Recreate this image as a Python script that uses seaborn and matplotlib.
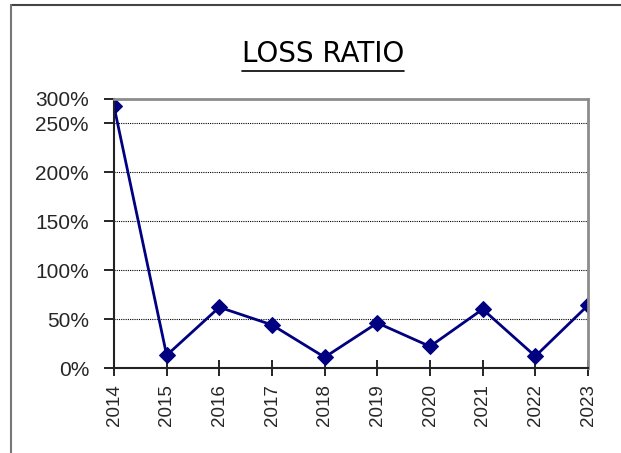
import matplotlib
matplotlib.use("Agg")
import matplotlib.pyplot as plt
import matplotlib.lines as mlines
import pandas as pd
import seaborn as sns

# loss ratio per year
years = [2014, 2015, 2016, 2017, 2018, 2019, 2020, 2021, 2022, 2023]
loss_ratio = [2.67, 0.13, 0.62, 0.44, 0.11, 0.46, 0.22, 0.60, 0.12, 0.64]
ytick_vals = [0, 0.5, 1.0, 1.5, 2.0, 2.5, 2.745]
ytick_labels = ["0%", "50%", "100%", "150%", "200%", "250%", "300%"]

data = pd.DataFrame({"year": years, "ratio": loss_ratio})

sns.set_style("white")
plt.rcParams["font.family"] = ["Liberation Sans", "DejaVu Sans"]

fig = plt.figure(figsize=(6.21, 4.53), dpi=100)
ax = fig.add_axes([114 / 621, 1 - 368 / 453, (588 - 114) / 621, (368 - 99) / 453])

sns.lineplot(data=data, x="year", y="ratio", ax=ax, color="#000080",
             linewidth=2, marker="D", markersize=8.5, markeredgecolor="#000080")

ax.set_xlim(years[0], years[-1])
ax.set_ylim(0, ytick_vals[-1])
ax.set_xticks(years)
ax.set_xticklabels([str(y) for y in years], rotation=90)
ax.set_yticks(ytick_vals)
ax.set_yticklabels(ytick_labels)
ax.set_xlabel("")
ax.set_ylabel("")

# dotted gridlines
for v in ytick_vals[1:-1]:
    ax.axhline(v, color="black", linestyle=(0, (1, 1)), linewidth=0.8, zorder=0)

ax.tick_params(axis="x", direction="inout", length=11, width=1.2, labelsize=13.5, pad=6, color="black")
ax.tick_params(axis="y", direction="out", length=7, width=1.2, labelsize=15, pad=11, color="black")
ax.tick_params(left=True, bottom=True)

for s in ["left", "bottom"]:
    ax.spines[s].set_color("#222222")
    ax.spines[s].set_linewidth(1.5)
for s in ["top", "right"]:
    ax.spines[s].set_color("#8c8c8c")
    ax.spines[s].set_linewidth(2)

# title with underline
title = fig.text(323 / 621, 1 - 54 / 453, "LOSS RATIO", ha="center", va="center",
                 fontsize=20, family="DejaVu Sans", color="black")
fig.canvas.draw()
bb = title.get_window_extent()
uy = bb.y0 - 3
fig.add_artist(mlines.Line2D([bb.x0 / 621, bb.x1 / 621], [uy / 453, uy / 453],
                             color="black", linewidth=1.2, transform=fig.transFigure))

# chart area border (top and left visible)
fig.add_artist(mlines.Line2D([11 / 621, 1], [1 - 5 / 453, 1 - 5 / 453], color="#444444",
                             linewidth=1.5, transform=fig.transFigure))
fig.add_artist(mlines.Line2D([11 / 621, 11 / 621], [0, 1 - 5 / 453], color="#777777",
                             linewidth=1.5, transform=fig.transFigure))

fig.savefig("out.png", dpi=100)
